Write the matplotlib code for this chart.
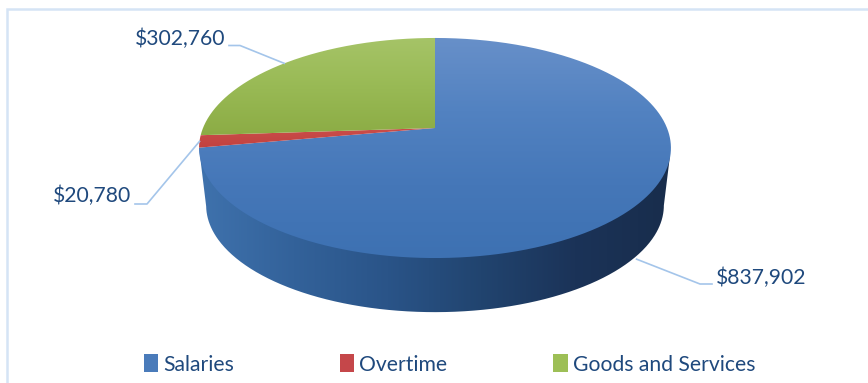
import numpy as np
import matplotlib
matplotlib.use("Agg")
import matplotlib.pyplot as plt
from matplotlib.colors import LinearSegmentedColormap
from matplotlib.patches import Patch, PathPatch
from matplotlib.path import Path

# Budget breakdown
categories = ["Salaries", "Overtime", "Goods and Services"]
amounts = [837902, 20780, 302760]
amount_labels = ["$837,902", "$20,780", "$302,760"]
legend_colors = ["#4a7bba", "#c5474a", "#9dbf56"]

TEXT = "#1f497d"
LEADER = "#a4c5ea"
FONT = "Lato"

# Perspective disc parameters, in pixels of the canvas
CX, APEX_Y, A, B, K = 435.0, 128.0, 232.0, 106.4, 0.1818
BOTTOM_Y, BOTTOM_SCALE = 186.0, 0.97


def rim(theta, apex_y=APEX_Y, scale=1.0):
    """Project a clockwise-from-north angle onto the tilted disc."""
    u, v = np.sin(theta), np.cos(theta)
    w = 1 + K * v
    return CX + scale * A * u / w, apex_y - scale * B * v / w


fig = plt.figure(figsize=(8.68, 3.83), dpi=100, facecolor="white")
ax = fig.add_axes([0, 0, 1, 1])
ax.set_xlim(0, 868)
ax.set_ylim(383, 0)
ax.axis("off")

# Chart frame: only the top and left edges fall inside the canvas
ax.plot([6.5, 6.5, 868], [383, 8.5, 8.5], color="#d5e4f5", lw=1.8, solid_joinstyle="miter")


def gradient_fill(stops, extent, vertical, verts, zorder):
    cmap = LinearSegmentedColormap.from_list("fill", stops)
    ramp = np.linspace(0, 1, 256)
    data = ramp[:, None] if vertical else ramp[None, :]
    x0, x1, y0, y1 = extent
    im = ax.imshow(data, cmap=cmap, extent=(x0, x1, y1, y0), origin="upper",
                   aspect="auto", zorder=zorder, interpolation="bilinear")
    patch = PathPatch(Path(verts), transform=ax.transData, fc="none", ec="none")
    ax.add_patch(patch)
    im.set_clip_path(patch)


# Extruded wall of the disc, between the widest points of the rim
widest_left, widest_right = np.radians(259.5), np.radians(100.5)
lx, ly = rim(np.array([widest_left]))
rx, ry = rim(np.array([widest_right]))
bx, by = rim(np.linspace(widest_left, widest_right, 400), BOTTOM_Y, BOTTOM_SCALE)
wall = np.vstack([[lx[0], ly[0]], np.column_stack([bx, by]), [rx[0], ry[0]]])
wall = np.vstack([wall, wall[0]])
gradient_fill(["#3f72ad", "#33629a", "#2a5488", "#21446f", "#1b3358", "#182d4c"],
              (199, 670, 140, 320), False, wall, 2)

# Top face wedges, clockwise from north
fractions = np.array(amounts, dtype=float) / np.sum(amounts)
edges = np.concatenate([[0], np.cumsum(fractions)]) * 2 * np.pi
face_stops = [["#6890c9", "#5282c1", "#4577b8", "#3d71b2"],
              ["#cc4f4c", "#c0403e"],
              ["#a6c468", "#99ba55", "#8cac45"]]
face_extents = [(195, 675, 36, 260), (195, 440, 125, 150), (195, 440, 36, 135)]
for start, stop, stops, extent in zip(edges[:-1], edges[1:], face_stops, face_extents):
    t = np.linspace(start, stop, max(int(np.degrees(stop - start)) * 3, 10))
    x, y = rim(t)
    verts = np.vstack([[CX, APEX_Y], np.column_stack([x, y]), [CX, APEX_Y]])
    gradient_fill(stops, extent, True, verts, 3)

ax.set_xlim(0, 868)
ax.set_ylim(383, 0)

# Value labels with elbow leaders anchored at each wedge's middle
mids = (edges[:-1] + edges[1:]) / 2
anchors = []
for i, m in enumerate(mids):
    x, y = rim(np.array([m]))
    # The largest wedge's anchor sits on the wall below its rim
    anchors.append((x[0], y[0] + (54 if i == 0 else 0)))

elbows = [((700, 284), (712, 284)), ((147, 204), (135, 204)), ((240, 45.5), (229, 45.5))]
text_pos = [(716, 278), (131, 196), (225, 39)]
aligns = ["left", "right", "right"]
for anchor, (e1, e2), label, pos, ha in zip(anchors, elbows, amount_labels, text_pos, aligns):
    ax.plot([anchor[0], e1[0], e2[0]], [anchor[1], e1[1], e2[1]], color=LEADER, lw=1.2,
            zorder=1 if anchor[1] > 200 else 4)
    ax.text(pos[0], pos[1], label, color=TEXT, family=FONT, fontsize=15.2,
            ha=ha, va="center", zorder=5)

handles = [Patch(facecolor=c, edgecolor="none", label=n) for n, c in zip(categories, legend_colors)]
leg = ax.legend(handles=handles, ncols=3, loc="center", bbox_to_anchor=(449.5, 364.5),
                bbox_transform=ax.transData, frameon=False, prop={"family": FONT, "size": 15.2},
                labelcolor=TEXT, handlelength=0.67, handleheight=0.9, handletextpad=0.25,
                columnspacing=5.02, borderpad=0, borderaxespad=0)

fig.savefig("out.png", dpi=100)
